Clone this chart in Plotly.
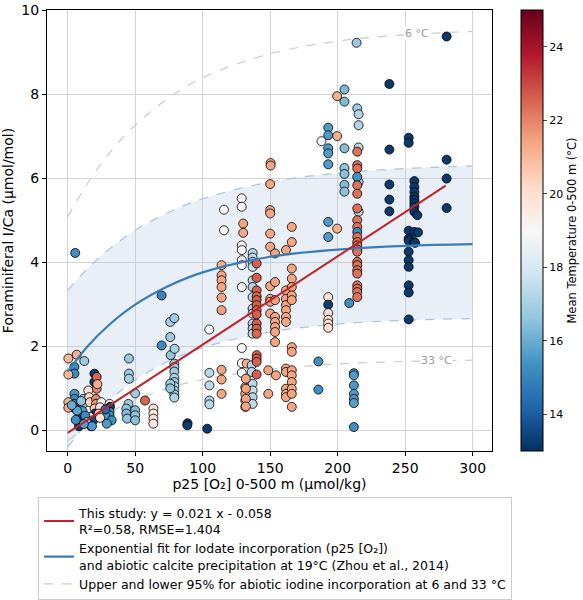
import plotly.graph_objects as go
import plotly.express as px

# foraminifera samples: p25 [O2] (umol/kg), I/Ca (umol/mol), mean temperature 0-500 m (degC)
o2 = [
    # 0-35
    0.5, 6.7, 12.3, 5, 5, 0.5, 5.6, 19.8, 19.8, 21.5, 21.5, 15.3,
    5, 5, 5, 4.5, 0.5, 0.5, 11.6, 11.6, 16, 16.5, 21, 21, 20,
    25, 31, 31.4, 31, 31, 26.4, 20.2, 9, 9, 8.4, 17.3, 16.5, 27.7,
    32.6, 29, 19, 11, 13, 14, 18, 24, 23, 12, 7, 28, 10, 22, 24, 3, 6,
    # 44-80
    45.4, 45.4, 45.4, 50, 45, 43.5, 43.5, 44, 50, 50, 50, 57.3,
    63.5, 63.5, 63.5, 63.5, 69.6, 69.6,
    76, 79, 76, 76.3, 79.2, 79, 79, 79, 79, 79, 79, 79, 79, 79, 76, 76,
    88.8, 88.6, 103.4,
    # 105-166
    104.9, 105, 105, 105, 105,
    115.8, 115.8, 114, 114, 114, 114, 114, 114, 114, 114, 114,
    128.9, 128.9, 130, 130, 129, 129, 129, 129, 129, 129, 129, 129, 132.6,
    131.6, 131.6, 131.6, 131.6,
    137, 137, 137, 137, 137, 137, 137, 137, 137, 137, 137, 137, 136.3, 136.3,
    137, 137, 137, 137,
    132, 132, 132, 132,
    140, 140, 140, 140, 140, 140, 140, 140, 140, 140, 140, 140, 140, 140, 140,
    150.3, 150.3, 150, 150, 150, 150, 150, 153.6, 150, 150, 150, 150, 153.6,
    153.6, 153.6, 153.6, 153.6, 153.6, 153.6, 148.6, 148.6, 154.3,
    161.7, 161.7, 161.7, 161.7, 161.7, 161.7, 161.7, 166, 166, 166, 166, 166,
    166, 166, 166, 166, 161.7, 161.7, 161.7, 161.7, 161.7, 166, 166, 166, 166,
    166, 166,
    # 185-215
    185.7, 185.7,
    193, 193, 188, 193, 193, 193, 193, 193, 193, 193, 193, 193, 193, 193,
    199.6, 199.6, 199.6,
    205, 205, 205, 205, 205, 205, 205, 208.6,
    212, 212, 212, 212, 212, 212, 212,
    214, 214.5, 215.5, 215.5, 215.5, 215.5, 215.5,
    214.5, 214.5, 214.5, 214.5, 214.5, 214.5, 214.5, 214.5, 214.5, 214.5,
    214.5, 214.5, 214.5, 214.5, 214.5, 214.5, 214.5, 214.5, 214.5, 214.5,
    214.5, 214.5, 214.5,
    # 238-281
    238.3, 238.3, 238.3, 238.3, 238.3,
    252.6, 252.6, 256.8, 256.8, 256.8, 256.8, 256.8, 256.8, 256.8, 256.8, 259,
    252.6, 252.6, 252.6, 256.8, 259.5, 256.8, 252.6, 252.6, 252.6, 252.6,
    252.6, 252.6, 257.3,
    280.7, 280.7, 280.7, 280.7,
]
ica = [
    1.71, 1.80, 1.65, 1.51, 1.35, 1.33, 4.22, 1.35, 1.15, 1.27, 0.99, 0.95,
    0.87, 0.75, 0.63, 0.54, 0.67, 0.54, 0.75, 0.63, 0.79, 0.67, 0.75, 0.63, 0.52,
    0.67, 0.63, 0.56, 0.44, 0.36, 0.48, 0.40, 0.40, 0.28, 0.10, 0.10, 0.32, 0.36,
    0.24, 0.16, 0.24, 0.46, 0.35, 0.20, 0.10, 0.55, 0.40, 0.15, 0.47, 0.50, 0.70, 1.10, 0.30, 0.60, 0.25,
    1.71, 1.35, 1.23, 0.88, 0.63, 0.52, 0.40, 0.28, 0.48, 0.36, 0.24, 0.71,
    0.52, 0.40, 0.28, 0.16, 3.21, 2.02,
    2.58, 2.67, 2.22, 1.79, 1.94, 1.59, 1.50, 1.40, 1.25, 1.15, 1.05, 0.95, 0.86, 0.78, 1.11, 1.00,
    0.17, 0.12, 0.04,
    2.40, 1.37, 1.07, 0.71, 0.62,
    5.25, 4.76, 3.93, 3.69, 3.57, 3.41, 3.16, 2.86, 1.44, 1.21, 0.87,
    5.52, 5.32, 4.92, 4.70, 4.40, 4.29, 4.05, 3.93, 3.41, 1.96, 1.60, 1.37, 1.59,
    1.03, 0.87, 0.71, 0.56,
    4.22, 4.11, 4.01, 3.89, 3.57, 3.41, 3.17, 2.90, 2.78, 2.54, 2.42, 2.30, 1.55, 1.39,
    1.11, 0.95, 0.79, 0.63,
    1.23, 0.99, 0.75, 0.57,
    3.97, 3.63, 3.33, 3.19, 3.10, 2.98, 2.86, 2.76, 2.54, 2.42, 2.30, 1.79, 1.71, 1.63, 1.33,
    6.36, 6.30, 5.86, 5.24, 5.16, 4.68, 4.37, 4.21, 3.43, 3.13, 3.06, 2.78, 3.53,
    3.10, 2.70, 2.58, 2.46, 2.34, 2.10, 1.43, 0.87, 1.31,
    4.29, 3.33, 3.13, 2.98, 2.86, 2.70, 2.58, 4.84, 4.48, 3.85, 3.61, 3.41,
    3.21, 3.10, 1.98, 1.87, 1.47, 1.39, 0.99, 0.87, 0.79, 1.43, 1.31, 1.15, 0.99,
    0.87, 0.56,
    1.64, 0.97,
    7.20, 7.02, 6.88, 6.71, 6.59, 6.33, 4.96, 4.60, 3.17, 2.99, 2.79, 2.63, 2.54, 2.44,
    7.95, 7.00, 4.80,
    8.11, 7.82, 6.71, 6.24, 6.10, 5.84, 5.68, 3.03,
    1.36, 1.31, 1.07, 0.87, 0.75, 0.65, 0.08,
    9.22, 7.66, 7.52, 7.26, 6.73, 5.91, 5.20,
    6.63, 6.31, 6.23, 6.03, 5.83, 5.63, 5.28, 5.00, 4.84, 4.72,
    4.60, 4.48, 4.40, 4.30, 4.25, 4.01, 3.93, 3.81, 3.73, 3.45,
    3.37, 3.29, 3.17,
    8.24, 6.68, 5.85, 5.49, 5.21,
    6.96, 6.84, 5.93, 5.79, 5.67, 5.56, 5.48, 5.40, 5.32, 5.20, 5.12,
    4.75, 4.56, 4.51, 4.72, 4.71, 4.48, 4.25, 4.05, 3.89, 3.45,
    3.28, 2.64, 4.46,
    9.37, 6.44, 5.99, 5.29,
]
temp = [
    21.0, 21.2, 16.8, 15.2, 15.2, 21.0, 15.3, 13.2, 13.3, 22.5, 22.0, 20.0,
    15.5, 15.2, 14.8, 15.0, 21.0, 21.2, 16.8, 16.4, 20.2, 20.4, 22.0, 21.6, 20.6,
    19.0, 19.3, 13.3, 15.6, 15.3, 13.5, 13.2, 14.8, 13.3, 13.2, 13.2, 20.0, 15.6,
    15.3, 15.6, 13.5, 15.6, 15.2, 16.4, 15.6, 19.8, 20.4, 15.7, 15.8, 14.4, 16.6, 21.2, 19.6, 16.0, 15.3,
    16.8, 16.8, 17.0, 16.8, 16.8, 16.6, 16.4, 16.6, 16.4, 16.6, 16.5, 22.5,
    19.8, 19.6, 19.9, 19.7, 15.0, 15.2,
    17.0, 16.8, 16.8, 16.6, 17.0, 16.8, 17.0, 16.8, 17.1, 16.8, 17.3, 17.0, 16.8, 17.2, 16.8, 16.6,
    13.2, 13.3, 13.2,
    19.0, 17.3, 17.4, 17.2, 17.3,
    19.0, 19.0, 21.2, 21.4, 21.4, 21.4, 21.4, 21.5, 21.4, 21.4, 21.4,
    19.0, 19.0, 21.4, 21.4, 19.0, 19.0, 19.0, 19.0, 19.0, 19.0, 19.0, 19.0, 21.2,
    21.4, 21.4, 21.4, 21.4,
    17.2, 17.4, 17.2, 17.5, 17.3, 17.2, 17.4, 17.2, 17.5, 17.3, 17.2, 17.4, 17.2, 17.4,
    17.3, 17.5, 17.2, 17.4,
    21.4, 21.4, 21.4, 21.4,
    22.6, 22.6, 22.6, 22.5, 22.6, 22.6, 22.5, 22.6, 22.6, 22.6, 22.5, 22.6, 22.6, 22.6, 22.6,
    21.4, 21.4, 21.4, 21.4, 21.4, 21.4, 21.4, 21.4, 21.4, 21.4, 21.4, 21.4, 21.4,
    21.4, 21.4, 21.4, 21.4, 21.4, 21.4, 21.4, 21.4, 21.4,
    21.4, 21.4, 21.4, 21.4, 21.4, 21.4, 21.4, 21.4, 21.4, 21.4, 21.4, 21.4,
    21.4, 21.4, 21.4, 21.4, 21.4, 21.4, 21.4, 21.4, 21.4, 21.4, 21.4, 21.4, 21.4,
    21.4, 21.4,
    15.3, 15.3,
    15.6, 15.6, 19.0, 15.6, 15.6, 15.6, 15.6, 15.6, 19.8, 13.3, 20.0, 20.0, 19.9, 20.0,
    21.2, 21.2, 21.2,
    16.3, 16.3, 16.4, 16.6, 16.5, 16.4, 16.5, 15.3,
    15.5, 15.6, 15.5, 15.6, 15.5, 15.7, 15.3,
    16.8, 16.8, 17.2, 17.2, 17.3, 17.2, 17.3,
    22.3, 22.3, 22.3, 15.4, 22.3, 22.3, 22.3, 22.3, 22.3, 15.2,
    22.3, 22.3, 22.3, 22.3, 22.3, 22.3, 22.3, 22.3, 22.3, 22.3,
    22.3, 22.3, 22.3,
    13.2, 13.2, 13.2, 13.2, 13.2,
    13.2, 13.2, 13.2, 13.2, 13.2, 13.2, 13.2, 13.2, 13.2, 13.2, 13.2,
    13.2, 13.2, 13.2, 13.2, 13.2, 13.2, 13.2, 13.2, 13.2, 13.2,
    13.2, 13.2, 13.2,
    13.2, 13.2, 13.2, 13.2,
]

# linear fit of this study (end points of the line)
lin_x = [0, 280]
lin_y = [-0.058, 5.822]

# curves
curve_x = [0, 15, 30, 50, 75, 100, 150, 200, 250, 300]
zhou_fit = [1.40, 2.01, 2.49, 2.99, 3.44, 3.76, 4.13, 4.30, 4.39, 4.43]
fit_upper = [3.33, 3.86, 4.29, 4.76, 5.19, 5.51, 5.91, 6.12, 6.23, 6.29]
fit_lower = [-0.40, 0.20, 0.69, 1.19, 1.65, 1.97, 2.34, 2.53, 2.62, 2.66]
abiotic_6c = [5.08, 5.89, 6.56, 7.26, 7.91, 8.39, 8.96, 9.26, 9.41, 9.49]
abiotic_33c = [-0.25, 0.12, 0.41, 0.72, 1.01, 1.21, 1.45, 1.58, 1.64, 1.67]

font = "DejaVu Sans"
band_blue = "#a9c3e3"
grey_dash = "#cbcbcb"

fig = go.Figure()

fig.add_trace(go.Scatter(x=curve_x, y=fit_lower, mode="lines", line_shape="spline",
                         line=dict(color=band_blue, width=1.2, dash="dash"),
                         showlegend=False, hoverinfo="skip"))
fig.add_trace(go.Scatter(x=curve_x, y=fit_upper, mode="lines", line_shape="spline",
                         line=dict(color=band_blue, width=1.2, dash="dash"),
                         fill="tonexty", fillcolor="rgba(176,196,222,0.28)",
                         showlegend=False, hoverinfo="skip"))
fig.add_trace(go.Scatter(x=curve_x, y=abiotic_6c, mode="lines", line_shape="spline",
                         line=dict(color=grey_dash, width=1.2, dash="dash"),
                         name="Upper and lower 95% for abiotic iodine incorporation at 6 and 33 °C",
                         legendgroup="abiotic", legendrank=3))
fig.add_trace(go.Scatter(x=curve_x, y=abiotic_33c, mode="lines", line_shape="spline",
                         line=dict(color=grey_dash, width=1.2, dash="dash"),
                         legendgroup="abiotic", showlegend=False))

fig.add_trace(go.Scatter(
    x=o2, y=ica, mode="markers", showlegend=False,
    marker=dict(size=9, color=temp, colorscale=px.colors.diverging.RdBu[::-1],
                cmin=13, cmax=25, line=dict(color="black", width=0.8),
                colorbar=dict(
                    x=1.065, xanchor="left", xpad=0, y=0.5, yanchor="middle",
                    len=1, ypad=0, thickness=22, outlinewidth=1, outlinecolor="black",
                    tickvals=[14, 16, 18, 20, 22, 24], ticks="outside", ticklen=4,
                    tickfont=dict(family=font, size=11, color="black"),
                    title=dict(text="Mean Temperature 0-500 m (°C)", side="right",
                               font=dict(family=font, size=11.5, color="black")),
                )),
))

fig.add_trace(go.Scatter(x=curve_x, y=zhou_fit, mode="lines", line_shape="spline",
                         line=dict(color="#3a7cb8", width=2.2),
                         name="Exponential fit for Iodate incorporation (p25 [O₂])<br>"
                              "and abiotic calcite precipitation at 19°C (Zhou et al., 2014)",
                         legendrank=2))
fig.add_trace(go.Scatter(x=lin_x, y=lin_y, mode="lines",
                         line=dict(color="#c0232b", width=2),
                         name="This study: y = 0.021 x - 0.058<br>R²=0.58, RMSE=1.404",
                         legendrank=1))

fig.add_annotation(x=258.5, y=9.44, text="6 °C", showarrow=False, bgcolor="white",
                   font=dict(family=font, size=11, color="#9a9a9a"), borderpad=0)
fig.add_annotation(x=273, y=1.66, text="33 °C", showarrow=False, bgcolor="white",
                   font=dict(family=font, size=11, color="#9a9a9a"), borderpad=0)

axis_style = dict(showgrid=True, gridcolor="#d4d4d4", gridwidth=1, zeroline=False,
                  showline=True, linecolor="black", linewidth=1, mirror=True,
                  ticks="outside", ticklen=4, tickcolor="black",
                  tickfont=dict(family=font, size=14, color="black"))

fig.update_xaxes(range=[-15.3, 314.3], tickvals=[0, 50, 100, 150, 200, 250, 300],
                 title=dict(text="p25 [O₂] 0-500 m (µmol/kg)", standoff=4,
                            font=dict(family=font, size=14, color="black")),
                 **axis_style)
fig.update_yaxes(range=[-0.49, 10], tickvals=[0, 2, 4, 6, 8, 10],
                 title=dict(text="Foraminiferal I/Ca (µmol/mol)", standoff=6,
                            font=dict(family=font, size=14, color="black")),
                 **axis_style)

fig.update_layout(
    width=583, height=600,
    margin=dict(l=47, r=91, t=10, b=149, autoexpand=False),
    plot_bgcolor="white", paper_bgcolor="white",
    font=dict(family=font, color="black"),
    legend=dict(x=-0.02, y=-0.105, xanchor="left", yanchor="top",
                bordercolor="#cccccc", borderwidth=1, bgcolor="white",
                font=dict(family=font, size=12.5, color="black"),
                tracegroupgap=0),
)

fig.write_html("out.html", config={"displayModeBar": False},
               post_script="document.body.style.margin='0px';")
